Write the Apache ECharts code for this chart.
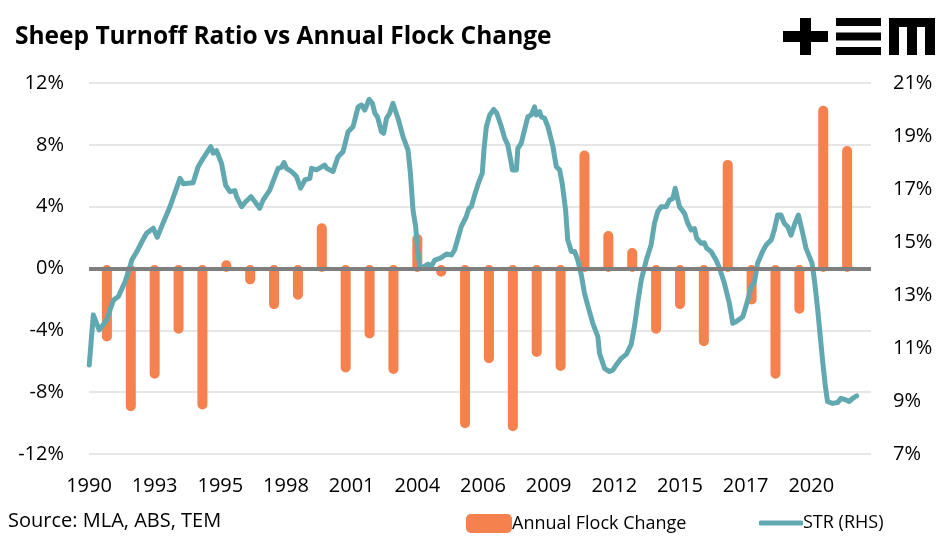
<!DOCTYPE html>
<html><head><meta charset="utf-8">
<script src="https://cdn.jsdelivr.net/npm/echarts@6/dist/echarts.min.js"></script>
<style>html,body{margin:0;padding:0;background:#fff}#c{width:947px;height:543px}</style>
</head><body><div id="c"></div>
<script>
// Annual flock change (%), one bar per year
const flockYears = [1991,1992,1993,1994,1995,1996,1997,1998,1999,2000,2001,2002,2003,2004,2005,2006,2007,2008,2009,2010,2011,2012,2013,2014,2015,2016,2017,2018,2019,2020,2021,2022];
const flockChange = [-4.5,-9.0,-6.9,-4.0,-8.9,0.3,-0.8,-2.4,-1.8,2.7,-6.5,-4.3,-6.6,2.0,-0.3,-10.1,-5.9,-10.3,-5.5,-6.4,7.4,2.2,1.1,-4.0,-2.4,-4.8,6.8,-2.1,-6.9,-2.7,10.3,7.7];

// Sheep turnoff ratio (%), RHS, decimal years
const strYears = [1990.26,1990.43,1990.68,1990.99,1991.27,1991.48,1991.76,1991.97,1992.04,1992.25,1992.46,1992.66,1992.94,1993.11,1993.29,1993.64,1994.06,1994.20,1994.61,1994.82,1995.03,1995.35,1995.45,1995.59,1995.80,1995.97,1996.15,1996.36,1996.43,1996.64,1996.81,1997.03,1997.20,1997.40,1997.54,1997.82,1998.17,1998.31,1998.42,1998.52,1998.73,1998.94,1999.11,1999.29,1999.50,1999.57,1999.78,2000.12,2000.20,2000.47,2000.68,2000.89,2001.10,2001.31,2001.52,2001.66,2001.80,2001.98,2002.12,2002.22,2002.33,2002.50,2002.59,2002.71,2002.84,2002.98,2003.05,2003.19,2003.40,2003.61,2003.71,2003.82,2003.93,2004.00,2004.10,2004.24,2004.45,2004.59,2004.73,2004.94,2005.07,2005.22,2005.43,2005.56,2005.70,2005.84,2006.05,2006.16,2006.26,2006.40,2006.58,2006.72,2006.79,2006.89,2007.03,2007.20,2007.33,2007.52,2007.66,2007.79,2007.91,2007.98,2008.15,2008.21,2008.35,2008.49,2008.63,2008.77,2008.91,2008.98,2009.12,2009.19,2009.33,2009.47,2009.68,2009.82,2009.96,2010.07,2010.21,2010.30,2010.45,2010.59,2010.72,2010.87,2011.00,2011.14,2011.35,2011.56,2011.63,2011.84,2012.05,2012.19,2012.33,2012.54,2012.75,2012.96,2013.10,2013.23,2013.38,2013.59,2013.79,2013.93,2014.07,2014.21,2014.42,2014.56,2014.70,2014.80,2014.88,2014.98,2015.19,2015.33,2015.47,2015.61,2015.70,2015.89,2016.02,2016.12,2016.30,2016.51,2016.65,2016.86,2017.07,2017.21,2017.35,2017.63,2017.84,2017.98,2018.12,2018.25,2018.46,2018.61,2018.82,2018.95,2019.09,2019.23,2019.37,2019.51,2019.65,2019.79,2019.96,2020.14,2020.28,2020.42,2020.53,2020.63,2020.77,2020.97,2021.09,2021.18,2021.39,2021.60,2021.74,2021.95,2022.09,2022.23,2022.40];
const strValues = [10.36,12.25,11.68,12.06,12.8,12.94,13.5,14.07,14.32,14.63,15.0,15.33,15.52,15.18,15.58,16.33,17.4,17.2,17.24,17.84,18.16,18.6,18.35,18.45,17.97,17.15,16.9,16.94,16.71,16.33,16.52,16.71,16.52,16.27,16.58,16.96,17.78,17.82,18.0,17.78,17.66,17.47,17.03,17.34,17.4,17.78,17.72,17.9,17.78,17.66,18.22,18.41,19.16,19.35,20.1,20.17,19.98,20.38,20.23,19.86,19.73,19.16,19.1,19.67,19.86,20.23,20.04,19.67,18.98,18.47,17.59,16.2,15.58,14.83,14.07,14.05,14.17,14.09,14.32,14.38,14.45,14.55,14.51,14.7,15.14,15.58,15.96,16.27,16.33,16.77,17.28,17.59,18.47,19.35,19.79,20.0,19.86,19.35,18.91,18.66,18.09,17.72,17.72,18.53,18.72,19.23,19.73,19.79,20.1,19.79,19.92,19.73,19.67,19.35,18.6,17.84,17.72,17.2,16.2,15.08,14.64,14.64,14.32,13.75,13.06,12.6,11.93,11.43,10.8,10.23,10.11,10.17,10.36,10.61,10.76,11.14,11.85,12.7,13.57,14.32,14.89,15.7,16.15,16.33,16.33,16.58,16.64,17.03,17.03,16.33,16.08,15.7,15.45,15.51,15.14,14.95,14.97,14.76,14.64,14.32,14.03,13.44,12.68,11.93,11.99,12.18,12.81,13.31,13.5,14.2,14.64,14.89,15.08,15.45,16.02,16.02,15.7,15.58,15.26,15.64,16.02,15.33,14.76,14.45,14.2,13.57,12.43,10.55,9.54,8.98,8.91,8.94,9.1,9.04,8.98,9.1,9.19];

// Axis tick labels
const xTickValues = [1990.25,1993.0,1995.75,1998.5,2001.25,2004.0,2006.75,2009.5,2012.25,2015.0,2017.75,2020.5];
const leftTicks = [-12,-8,-4,0,4,8,12];
const rightTicks = [7,9,11,13,15,17,19,21];

const FONT = 'Open Sans';
const BAR = '#f5814f';
const TEAL = '#62a8b0';

const chart = echarts.init(document.getElementById('c'), null, {renderer: 'canvas'});
chart.setOption({
  animation: false,
  backgroundColor: '#fff',
  title: {
    text: 'Sheep Turnoff Ratio vs Annual Flock Change',
    left: 10, top: 20,
    textStyle: {fontFamily: FONT, fontWeight: 'bold', fontSize: 24.5, color: '#000'}
  },
  grid: {left: 89, right: 76, top: 83, bottom: 89, containLabel: false},
  legend: [
    {data: [{name: 'Annual Flock Change', icon: 'roundRect'}], left: 461, top: 509, itemWidth: 46, itemHeight: 19, itemGap: 0,
     itemStyle: {borderWidth: 0}, textStyle: {fontFamily: FONT, fontSize: 18, color: '#000', padding: [0,0,0,-5]}},
    {data: [{name: 'STR (RHS)', icon: 'roundRect'}], left: 754, top: 509, itemWidth: 44, itemHeight: 5, itemGap: 0,
     itemStyle: {borderWidth: 0, color: TEAL}, lineStyle: {width: 0}, textStyle: {fontFamily: FONT, fontSize: 18, color: '#000', padding: [0,0,0,-5]}}
  ],
  xAxis: {
    type: 'value', min: 1990.25, max: 2023.0,
    axisLine: {show: false}, axisTick: {show: false}, splitLine: {show: false},
    axisLabel: {customValues: xTickValues, formatter: v => String(Math.floor(v + 1e-6)),
      margin: 22, fontFamily: FONT, fontSize: 20, color: '#000'}
  },
  yAxis: [
    {type: 'value', min: -12, max: 12, interval: 4,
     axisLine: {show: false}, axisTick: {show: false},
     splitLine: {lineStyle: {color: '#e6e6e6', width: 2}},
     axisLabel: {formatter: v => v + '%', margin: 25, fontFamily: FONT, fontSize: 20, color: '#000'}},
    {type: 'value', min: 7, max: 21, position: 'right',
     axisLine: {show: false}, axisTick: {show: false}, splitLine: {show: false},
     axisLabel: {customValues: rightTicks, formatter: v => v + '%', margin: 22, fontFamily: FONT, fontSize: 20, color: '#000'}}
  ],
  series: [
    {name: 'Annual Flock Change', type: 'bar', yAxisIndex: 0, z: 2,
     data: flockYears.map((y, i) => [y, flockChange[i]]),
     barWidth: 3,
     itemStyle: {color: BAR, borderColor: BAR, borderWidth: 10, borderJoin: 'round'},
     markLine: {silent: true, symbol: ['none', 'none'], label: {show: false}, animation: false,
       lineStyle: {color: '#7f7f7f', width: 4, type: 'solid'}, emphasis: {disabled: true},
       data: [{yAxis: 0}]}
    },
    {name: 'STR (RHS)', type: 'line', yAxisIndex: 1, z: 4,
     data: strYears.map((y, i) => [y, strValues[i]]),
     showSymbol: false, symbol: 'none', smooth: false,
     lineStyle: {color: TEAL, width: 5, cap: 'round', join: 'round'},
     itemStyle: {color: TEAL}
    }
  ],
  graphic: [
    {type: 'text', left: 8, top: 511, style: {text: 'Source: MLA, ABS, TEM', fontFamily: FONT, fontSize: 20, fill: '#000'}},
    // TEM logo
    {type: 'group', left: 783, top: 18, children: [
      {type: 'rect', shape: {x: 0, y: 13, width: 45, height: 11}, style: {fill: '#000'}},
      {type: 'rect', shape: {x: 17, y: 0, width: 11, height: 37}, style: {fill: '#000'}},
      {type: 'rect', shape: {x: 53, y: 0, width: 45, height: 8}, style: {fill: '#000'}},
      {type: 'rect', shape: {x: 53, y: 14.5, width: 45, height: 8}, style: {fill: '#000'}},
      {type: 'rect', shape: {x: 53, y: 29, width: 45, height: 8}, style: {fill: '#000'}},
      {type: 'rect', shape: {x: 106, y: 0, width: 46, height: 9}, style: {fill: '#000'}},
      {type: 'rect', shape: {x: 106, y: 0, width: 10, height: 37}, style: {fill: '#000'}},
      {type: 'rect', shape: {x: 124, y: 0, width: 10, height: 37}, style: {fill: '#000'}},
      {type: 'rect', shape: {x: 142, y: 0, width: 10, height: 37}, style: {fill: '#000'}}
    ]}
  ]
});
</script></body></html>
